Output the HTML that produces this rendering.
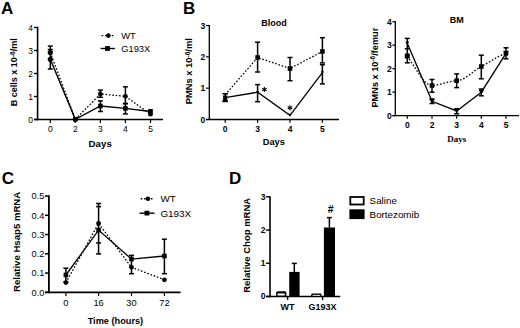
<!DOCTYPE html>
<html><head><meta charset="utf-8"><style>
html,body{margin:0;padding:0;background:#fff;}
svg{display:block;}
</style></head><body>
<svg width="520" height="328" viewBox="0 0 520 328">
<rect width="520" height="328" fill="#fff"/>
<text x="1" y="13.6" font-family='"Liberation Sans", sans-serif' font-size="17" font-weight="bold" text-anchor="start">A</text>
<line x1="37.6" y1="26.75" x2="37.6" y2="120.25" stroke="#000" stroke-width="1.6"/>
<line x1="34" y1="119.5" x2="163" y2="119.5" stroke="#000" stroke-width="1.6"/>
<line x1="34" y1="119.5" x2="37.6" y2="119.5" stroke="#000" stroke-width="1.4"/>
<text x="33" y="122.5" font-family='"Liberation Sans", sans-serif' font-size="8.5" font-weight="normal" text-anchor="end">0</text>
<line x1="34" y1="96.5" x2="37.6" y2="96.5" stroke="#000" stroke-width="1.4"/>
<text x="33" y="99.5" font-family='"Liberation Sans", sans-serif' font-size="8.5" font-weight="normal" text-anchor="end">1</text>
<line x1="34" y1="73.5" x2="37.6" y2="73.5" stroke="#000" stroke-width="1.4"/>
<text x="33" y="76.5" font-family='"Liberation Sans", sans-serif' font-size="8.5" font-weight="normal" text-anchor="end">2</text>
<line x1="34" y1="50.5" x2="37.6" y2="50.5" stroke="#000" stroke-width="1.4"/>
<text x="33" y="53.5" font-family='"Liberation Sans", sans-serif' font-size="8.5" font-weight="normal" text-anchor="end">3</text>
<line x1="34" y1="27.5" x2="37.6" y2="27.5" stroke="#000" stroke-width="1.4"/>
<text x="33" y="30.5" font-family='"Liberation Sans", sans-serif' font-size="8.5" font-weight="normal" text-anchor="end">4</text>
<line x1="50.3" y1="119.5" x2="50.3" y2="123" stroke="#000" stroke-width="1.2"/>
<text x="50.3" y="132" font-family='"Liberation Sans", sans-serif' font-size="8.5" font-weight="normal" text-anchor="middle">0</text>
<line x1="75.3" y1="119.5" x2="75.3" y2="123" stroke="#000" stroke-width="1.2"/>
<text x="75.3" y="132" font-family='"Liberation Sans", sans-serif' font-size="8.5" font-weight="normal" text-anchor="middle">2</text>
<line x1="100.4" y1="119.5" x2="100.4" y2="123" stroke="#000" stroke-width="1.2"/>
<text x="100.4" y="132" font-family='"Liberation Sans", sans-serif' font-size="8.5" font-weight="normal" text-anchor="middle">3</text>
<line x1="125.4" y1="119.5" x2="125.4" y2="123" stroke="#000" stroke-width="1.2"/>
<text x="125.4" y="132" font-family='"Liberation Sans", sans-serif' font-size="8.5" font-weight="normal" text-anchor="middle">4</text>
<line x1="150.5" y1="119.5" x2="150.5" y2="123" stroke="#000" stroke-width="1.2"/>
<text x="150.5" y="132" font-family='"Liberation Sans", sans-serif' font-size="8.5" font-weight="normal" text-anchor="middle">5</text>
<text x="100.2" y="146.8" font-family='"Liberation Sans", sans-serif' font-size="9.7" font-weight="bold" text-anchor="middle">Days</text>
<text transform="translate(16.7,72.2) rotate(-90)" font-family='"Liberation Sans", sans-serif' font-size="9" font-weight="bold" text-anchor="middle">B cells x 10<tspan dy="-1.5" font-size="6.6">-6</tspan><tspan dy="1.5">/ml</tspan></text>
<polyline points="50.3,52.4 75.3,119.3 100.4,94 125.4,96.3 150.5,114.2" fill="none" stroke="#000" stroke-width="1.3" stroke-dasharray="1.6 1.8"/>
<polyline points="50.3,59.3 75.3,119.3 100.4,106 125.4,108.4 150.5,111.5" fill="none" stroke="#000" stroke-width="1.4"/>
<line x1="50.3" y1="46.1" x2="50.3" y2="69" stroke="#000" stroke-width="1.5"/>
<line x1="47.8" y1="46.1" x2="52.8" y2="46.1" stroke="#000" stroke-width="1.5"/>
<line x1="47.8" y1="69" x2="52.8" y2="69" stroke="#000" stroke-width="1.5"/>
<line x1="47.8" y1="49.5" x2="52.8" y2="49.5" stroke="#000" stroke-width="1.5"/>
<line x1="100.4" y1="90.1" x2="100.4" y2="97.3" stroke="#000" stroke-width="1.5"/>
<line x1="97.9" y1="90.1" x2="102.9" y2="90.1" stroke="#000" stroke-width="1.5"/>
<line x1="97.9" y1="97.3" x2="102.9" y2="97.3" stroke="#000" stroke-width="1.5"/>
<line x1="100.4" y1="100.9" x2="100.4" y2="111.5" stroke="#000" stroke-width="1.5"/>
<line x1="97.9" y1="100.9" x2="102.9" y2="100.9" stroke="#000" stroke-width="1.5"/>
<line x1="97.9" y1="111.5" x2="102.9" y2="111.5" stroke="#000" stroke-width="1.5"/>
<line x1="125.4" y1="86.8" x2="125.4" y2="103.8" stroke="#000" stroke-width="1.5"/>
<line x1="122.9" y1="86.8" x2="127.9" y2="86.8" stroke="#000" stroke-width="1.5"/>
<line x1="122.9" y1="103.8" x2="127.9" y2="103.8" stroke="#000" stroke-width="1.5"/>
<line x1="125.4" y1="103.4" x2="125.4" y2="113.9" stroke="#000" stroke-width="1.5"/>
<line x1="122.9" y1="103.4" x2="127.9" y2="103.4" stroke="#000" stroke-width="1.5"/>
<line x1="122.9" y1="113.9" x2="127.9" y2="113.9" stroke="#000" stroke-width="1.5"/>
<circle cx="50.3" cy="52.4" r="2.6" fill="#000"/>
<circle cx="50.3" cy="59.3" r="2.6" fill="#000"/>
<circle cx="75.3" cy="119.3" r="2.4" fill="#000"/>
<rect x="73.0" y="117.0" width="4.6" height="4.6" fill="#000"/>
<circle cx="100.4" cy="94" r="2.4" fill="#000"/>
<rect x="98.10000000000001" y="103.7" width="4.6" height="4.6" fill="#000"/>
<circle cx="125.4" cy="96.3" r="2.4" fill="#000"/>
<rect x="123.10000000000001" y="106.10000000000001" width="4.6" height="4.6" fill="#000"/>
<circle cx="150.5" cy="114.2" r="2.4" fill="#000"/>
<rect x="148.2" y="109.0" width="4.6" height="4.6" fill="#000"/>
<line x1="101.6" y1="35.6" x2="114.4" y2="35.6" stroke="#000" stroke-width="1.4" stroke-dasharray="1.6 1.8"/>
<circle cx="108.4" cy="35.6" r="2.3" fill="#000"/>
<text x="121.2" y="38.8" font-family='"Liberation Sans", sans-serif' font-size="9.35" font-weight="normal" text-anchor="start">WT</text>
<line x1="100.6" y1="48.5" x2="114.8" y2="48.5" stroke="#000" stroke-width="1.4"/>
<rect x="105.1" y="46.1" width="4.8" height="4.8" fill="#000"/>
<text x="121.2" y="52" font-family='"Liberation Sans", sans-serif' font-size="9.35" font-weight="normal" text-anchor="start">G193X</text>
<text x="182.9" y="13.7" font-family='"Liberation Sans", sans-serif' font-size="17" font-weight="bold" text-anchor="start">B</text>
<line x1="209.3" y1="24.9" x2="209.3" y2="120.1" stroke="#000" stroke-width="1.3"/>
<line x1="206" y1="119.5" x2="339" y2="119.5" stroke="#000" stroke-width="1.3"/>
<line x1="206" y1="119.5" x2="209.3" y2="119.5" stroke="#000" stroke-width="1.2"/>
<text x="205.3" y="122.5" font-family='"Liberation Sans", sans-serif' font-size="8.5" font-weight="bold" text-anchor="end">0</text>
<line x1="206" y1="88.17" x2="209.3" y2="88.17" stroke="#000" stroke-width="1.2"/>
<text x="205.3" y="91.17" font-family='"Liberation Sans", sans-serif' font-size="8.5" font-weight="bold" text-anchor="end">1</text>
<line x1="206" y1="56.84" x2="209.3" y2="56.84" stroke="#000" stroke-width="1.2"/>
<text x="205.3" y="59.84" font-family='"Liberation Sans", sans-serif' font-size="8.5" font-weight="bold" text-anchor="end">2</text>
<line x1="206" y1="25.510000000000005" x2="209.3" y2="25.510000000000005" stroke="#000" stroke-width="1.2"/>
<text x="205.3" y="28.510000000000005" font-family='"Liberation Sans", sans-serif' font-size="8.5" font-weight="bold" text-anchor="end">3</text>
<line x1="225.2" y1="119.5" x2="225.2" y2="122.8" stroke="#000" stroke-width="1.2"/>
<text x="225.2" y="132" font-family='"Liberation Sans", sans-serif' font-size="8.5" font-weight="bold" text-anchor="middle">0</text>
<line x1="257.6" y1="119.5" x2="257.6" y2="122.8" stroke="#000" stroke-width="1.2"/>
<text x="257.6" y="132" font-family='"Liberation Sans", sans-serif' font-size="8.5" font-weight="bold" text-anchor="middle">3</text>
<line x1="290" y1="119.5" x2="290" y2="122.8" stroke="#000" stroke-width="1.2"/>
<text x="290" y="132" font-family='"Liberation Sans", sans-serif' font-size="8.5" font-weight="bold" text-anchor="middle">4</text>
<line x1="322.4" y1="119.5" x2="322.4" y2="122.8" stroke="#000" stroke-width="1.2"/>
<text x="322.4" y="132" font-family='"Liberation Sans", sans-serif' font-size="8.5" font-weight="bold" text-anchor="middle">5</text>
<text x="273.8" y="145" font-family='"Liberation Sans", sans-serif' font-size="9.3" font-weight="bold" text-anchor="middle">Days</text>
<text x="273.9" y="26" font-family='"Liberation Sans", sans-serif' font-size="9" font-weight="bold" text-anchor="middle">Blood</text>
<text transform="translate(191.7,71.2) rotate(-90)" font-family='"Liberation Sans", sans-serif' font-size="9.35" font-weight="bold" text-anchor="middle">PMNs x 10<tspan dy="-2.2" font-size="6.6">-6</tspan><tspan dy="2.2">/ml</tspan></text>
<polyline points="225.2,94.8 257.6,57.5 290,68.5 322.4,51.5" fill="none" stroke="#000" stroke-width="1.3" stroke-dasharray="1.6 1.8"/>
<polyline points="225.2,97.6 257.6,92.2 290,115.4 322.4,72.6" fill="none" stroke="#000" stroke-width="1.3"/>
<line x1="225.2" y1="93.8" x2="225.2" y2="101.5" stroke="#000" stroke-width="1.5"/>
<line x1="222.45" y1="93.8" x2="227.95" y2="93.8" stroke="#000" stroke-width="1.5"/>
<line x1="222.45" y1="101.5" x2="227.95" y2="101.5" stroke="#000" stroke-width="1.5"/>
<line x1="257.6" y1="42.2" x2="257.6" y2="72" stroke="#000" stroke-width="1.5"/>
<line x1="255.10000000000002" y1="42.2" x2="260.1" y2="42.2" stroke="#000" stroke-width="1.5"/>
<line x1="255.10000000000002" y1="72" x2="260.1" y2="72" stroke="#000" stroke-width="1.5"/>
<line x1="257.6" y1="84.6" x2="257.6" y2="101.7" stroke="#000" stroke-width="1.5"/>
<line x1="255.10000000000002" y1="84.6" x2="260.1" y2="84.6" stroke="#000" stroke-width="1.5"/>
<line x1="255.10000000000002" y1="101.7" x2="260.1" y2="101.7" stroke="#000" stroke-width="1.5"/>
<line x1="290" y1="57.5" x2="290" y2="80.7" stroke="#000" stroke-width="1.5"/>
<line x1="287.5" y1="57.5" x2="292.5" y2="57.5" stroke="#000" stroke-width="1.5"/>
<line x1="287.5" y1="80.7" x2="292.5" y2="80.7" stroke="#000" stroke-width="1.5"/>
<line x1="322.4" y1="37.7" x2="322.4" y2="62.9" stroke="#000" stroke-width="1.5"/>
<line x1="319.9" y1="37.7" x2="324.9" y2="37.7" stroke="#000" stroke-width="1.5"/>
<line x1="319.9" y1="62.9" x2="324.9" y2="62.9" stroke="#000" stroke-width="1.5"/>
<line x1="322.4" y1="64.7" x2="322.4" y2="83.9" stroke="#000" stroke-width="1.5"/>
<line x1="319.9" y1="64.7" x2="324.9" y2="64.7" stroke="#000" stroke-width="1.5"/>
<line x1="319.9" y1="83.9" x2="324.9" y2="83.9" stroke="#000" stroke-width="1.5"/>
<polygon points="222.1,101.69000000000001 228.29999999999998,101.69000000000001 225.2,96.11" fill="#000"/>
<rect x="223.1" y="95.5" width="4.2" height="4.2" fill="#000"/>
<rect x="255.3" y="55.2" width="4.6" height="4.6" fill="#000"/>
<polygon points="256.0,90.96000000000001 259.20000000000005,90.96000000000001 257.6,93.84" fill="#000"/>
<rect x="287.7" y="66.2" width="4.6" height="4.6" fill="#000"/>
<polygon points="288.4,113.76 291.6,113.76 290,116.64" fill="#000"/>
<rect x="320.09999999999997" y="49.2" width="4.6" height="4.6" fill="#000"/>
<polygon points="320.79999999999995,71.16 324.0,71.16 322.4,74.03999999999999" fill="#000"/>
<line x1="264.4" y1="86.9" x2="264.4" y2="92.1" stroke="#000" stroke-width="1.1"/>
<line x1="266.65" y1="88.2" x2="262.15" y2="90.8" stroke="#000" stroke-width="1.1"/>
<line x1="266.65" y1="90.8" x2="262.15" y2="88.2" stroke="#000" stroke-width="1.1"/>
<line x1="290.0" y1="105.2" x2="290.0" y2="110.4" stroke="#000" stroke-width="1.1"/>
<line x1="292.25" y1="106.5" x2="287.75" y2="109.1" stroke="#000" stroke-width="1.1"/>
<line x1="292.25" y1="109.1" x2="287.75" y2="106.5" stroke="#000" stroke-width="1.1"/>
<line x1="395.3" y1="21.099999999999998" x2="395.3" y2="116.19999999999999" stroke="#000" stroke-width="1.3"/>
<line x1="392.4" y1="115.6" x2="519" y2="115.6" stroke="#000" stroke-width="1.3"/>
<line x1="392.4" y1="115.6" x2="395.3" y2="115.6" stroke="#000" stroke-width="1.2"/>
<text x="391.8" y="118.6" font-family='"Liberation Sans", sans-serif' font-size="8.5" font-weight="bold" text-anchor="end">0</text>
<line x1="392.4" y1="92.13" x2="395.3" y2="92.13" stroke="#000" stroke-width="1.2"/>
<text x="391.8" y="95.13" font-family='"Liberation Sans", sans-serif' font-size="8.5" font-weight="bold" text-anchor="end">1</text>
<line x1="392.4" y1="68.66" x2="395.3" y2="68.66" stroke="#000" stroke-width="1.2"/>
<text x="391.8" y="71.66" font-family='"Liberation Sans", sans-serif' font-size="8.5" font-weight="bold" text-anchor="end">2</text>
<line x1="392.4" y1="45.19" x2="395.3" y2="45.19" stroke="#000" stroke-width="1.2"/>
<text x="391.8" y="48.19" font-family='"Liberation Sans", sans-serif' font-size="8.5" font-weight="bold" text-anchor="end">3</text>
<line x1="392.4" y1="21.72" x2="395.3" y2="21.72" stroke="#000" stroke-width="1.2"/>
<text x="391.8" y="24.72" font-family='"Liberation Sans", sans-serif' font-size="8.5" font-weight="bold" text-anchor="end">4</text>
<line x1="407.3" y1="115.6" x2="407.3" y2="118.8" stroke="#000" stroke-width="1.2"/>
<text x="407.3" y="128.2" font-family='"Liberation Sans", sans-serif' font-size="8.5" font-weight="bold" text-anchor="middle">0</text>
<line x1="432" y1="115.6" x2="432" y2="118.8" stroke="#000" stroke-width="1.2"/>
<text x="432" y="128.2" font-family='"Liberation Sans", sans-serif' font-size="8.5" font-weight="bold" text-anchor="middle">2</text>
<line x1="456.7" y1="115.6" x2="456.7" y2="118.8" stroke="#000" stroke-width="1.2"/>
<text x="456.7" y="128.2" font-family='"Liberation Sans", sans-serif' font-size="8.5" font-weight="bold" text-anchor="middle">3</text>
<line x1="481.3" y1="115.6" x2="481.3" y2="118.8" stroke="#000" stroke-width="1.2"/>
<text x="481.3" y="128.2" font-family='"Liberation Sans", sans-serif' font-size="8.5" font-weight="bold" text-anchor="middle">4</text>
<line x1="506" y1="115.6" x2="506" y2="118.8" stroke="#000" stroke-width="1.2"/>
<text x="506" y="128.2" font-family='"Liberation Sans", sans-serif' font-size="8.5" font-weight="bold" text-anchor="middle">5</text>
<text x="456.7" y="142" font-family='"Liberation Serif", serif' font-size="9" font-weight="bold" text-anchor="middle">Days</text>
<text x="456.8" y="23" font-family='"Liberation Sans", sans-serif' font-size="9" font-weight="bold" text-anchor="middle">BM</text>
<text transform="translate(377.6,67.6) rotate(-90)" font-family='"Liberation Sans", sans-serif' font-size="9.2" font-weight="bold" text-anchor="middle">PMNs x 10<tspan dy="-2.6" font-size="6.5">-6</tspan><tspan dy="2.6">/femur</tspan></text>
<path d="M407.3,56 C420,75 425,85.5 432,85.5 C440,85.5 448,81 456.7,80.7 C466,80 474,70 481.3,66.5 C490,62 498,56 506,53.3" fill="none" stroke="#000" stroke-width="1.3" stroke-dasharray="1.6 1.8"/>
<polyline points="407.3,43.2 432,101.3 456.7,110.9 481.3,92.2 506,53.3" fill="none" stroke="#000" stroke-width="1.3"/>
<line x1="407.3" y1="38.4" x2="407.3" y2="62.8" stroke="#000" stroke-width="1.5"/>
<line x1="404.8" y1="38.4" x2="409.8" y2="38.4" stroke="#000" stroke-width="1.5"/>
<line x1="404.8" y1="62.8" x2="409.8" y2="62.8" stroke="#000" stroke-width="1.5"/>
<line x1="432" y1="79.5" x2="432" y2="92.2" stroke="#000" stroke-width="1.5"/>
<line x1="429.5" y1="79.5" x2="434.5" y2="79.5" stroke="#000" stroke-width="1.5"/>
<line x1="429.5" y1="92.2" x2="434.5" y2="92.2" stroke="#000" stroke-width="1.5"/>
<line x1="432" y1="99" x2="432" y2="103.5" stroke="#000" stroke-width="1.5"/>
<line x1="429.5" y1="99" x2="434.5" y2="99" stroke="#000" stroke-width="1.5"/>
<line x1="429.5" y1="103.5" x2="434.5" y2="103.5" stroke="#000" stroke-width="1.5"/>
<line x1="456.7" y1="73.9" x2="456.7" y2="87.6" stroke="#000" stroke-width="1.5"/>
<line x1="454.2" y1="73.9" x2="459.2" y2="73.9" stroke="#000" stroke-width="1.5"/>
<line x1="454.2" y1="87.6" x2="459.2" y2="87.6" stroke="#000" stroke-width="1.5"/>
<line x1="456.7" y1="108.8" x2="456.7" y2="113.8" stroke="#000" stroke-width="1.5"/>
<line x1="454.2" y1="108.8" x2="459.2" y2="108.8" stroke="#000" stroke-width="1.5"/>
<line x1="454.2" y1="113.8" x2="459.2" y2="113.8" stroke="#000" stroke-width="1.5"/>
<line x1="481.3" y1="55.2" x2="481.3" y2="78.8" stroke="#000" stroke-width="1.5"/>
<line x1="478.8" y1="55.2" x2="483.8" y2="55.2" stroke="#000" stroke-width="1.5"/>
<line x1="478.8" y1="78.8" x2="483.8" y2="78.8" stroke="#000" stroke-width="1.5"/>
<line x1="481.3" y1="89" x2="481.3" y2="95.8" stroke="#000" stroke-width="1.5"/>
<line x1="478.8" y1="89" x2="483.8" y2="89" stroke="#000" stroke-width="1.5"/>
<line x1="478.8" y1="95.8" x2="483.8" y2="95.8" stroke="#000" stroke-width="1.5"/>
<line x1="506" y1="47.8" x2="506" y2="58.8" stroke="#000" stroke-width="1.5"/>
<line x1="503.5" y1="47.8" x2="508.5" y2="47.8" stroke="#000" stroke-width="1.5"/>
<line x1="503.5" y1="58.8" x2="508.5" y2="58.8" stroke="#000" stroke-width="1.5"/>
<line x1="404.8" y1="48.8" x2="409.8" y2="48.8" stroke="#000" stroke-width="1.5"/>
<rect x="404.8" y="53.5" width="5" height="5" fill="#000"/>
<polygon points="405.3,41.400000000000006 409.3,41.400000000000006 407.3,45.0" fill="#000"/>
<rect x="429.7" y="83.2" width="4.6" height="4.6" fill="#000"/>
<polygon points="429.25,98.825 434.75,98.825 432,103.77499999999999" fill="#000"/>
<rect x="454.4" y="78.4" width="4.6" height="4.6" fill="#000"/>
<polygon points="453.95,108.525 459.45,108.525 456.7,113.475" fill="#000"/>
<rect x="479.0" y="64.2" width="4.6" height="4.6" fill="#000"/>
<polygon points="478.55,89.72500000000001 484.05,89.72500000000001 481.3,94.675" fill="#000"/>
<rect x="503.7" y="51.0" width="4.6" height="4.6" fill="#000"/>
<polygon points="503.25,50.824999999999996 508.75,50.824999999999996 506,55.775" fill="#000"/>
<text x="1.8" y="183.9" font-family='"Liberation Sans", sans-serif' font-size="17" font-weight="bold" text-anchor="start">C</text>
<line x1="48.9" y1="195.25" x2="48.9" y2="293.15000000000003" stroke="#000" stroke-width="1.8"/>
<line x1="45" y1="292.3" x2="180.6" y2="292.3" stroke="#000" stroke-width="1.8"/>
<line x1="45" y1="292.3" x2="48.9" y2="292.3" stroke="#000" stroke-width="1.5"/>
<text x="44.3" y="295.6" font-family='"Liberation Sans", sans-serif' font-size="9.2" font-weight="normal" text-anchor="end">0.0</text>
<line x1="45" y1="273.05" x2="48.9" y2="273.05" stroke="#000" stroke-width="1.5"/>
<text x="44.3" y="276.35" font-family='"Liberation Sans", sans-serif' font-size="9.2" font-weight="normal" text-anchor="end">0.1</text>
<line x1="45" y1="253.8" x2="48.9" y2="253.8" stroke="#000" stroke-width="1.5"/>
<text x="44.3" y="257.1" font-family='"Liberation Sans", sans-serif' font-size="9.2" font-weight="normal" text-anchor="end">0.2</text>
<line x1="45" y1="234.55" x2="48.9" y2="234.55" stroke="#000" stroke-width="1.5"/>
<text x="44.3" y="237.85000000000002" font-family='"Liberation Sans", sans-serif' font-size="9.2" font-weight="normal" text-anchor="end">0.3</text>
<line x1="45" y1="215.3" x2="48.9" y2="215.3" stroke="#000" stroke-width="1.5"/>
<text x="44.3" y="218.60000000000002" font-family='"Liberation Sans", sans-serif' font-size="9.2" font-weight="normal" text-anchor="end">0.4</text>
<line x1="45" y1="196.05" x2="48.9" y2="196.05" stroke="#000" stroke-width="1.5"/>
<text x="44.3" y="199.35000000000002" font-family='"Liberation Sans", sans-serif' font-size="9.2" font-weight="normal" text-anchor="end">0.5</text>
<line x1="65.9" y1="292.3" x2="65.9" y2="296" stroke="#000" stroke-width="1.2"/>
<text x="65.9" y="306.2" font-family='"Liberation Sans", sans-serif' font-size="9.3" font-weight="normal" text-anchor="middle">0</text>
<line x1="98.6" y1="292.3" x2="98.6" y2="296" stroke="#000" stroke-width="1.2"/>
<text x="98.6" y="306.2" font-family='"Liberation Sans", sans-serif' font-size="9.3" font-weight="normal" text-anchor="middle">16</text>
<line x1="131.5" y1="292.3" x2="131.5" y2="296" stroke="#000" stroke-width="1.2"/>
<text x="131.5" y="306.2" font-family='"Liberation Sans", sans-serif' font-size="9.3" font-weight="normal" text-anchor="middle">30</text>
<line x1="164.4" y1="292.3" x2="164.4" y2="296" stroke="#000" stroke-width="1.2"/>
<text x="164.4" y="306.2" font-family='"Liberation Sans", sans-serif' font-size="9.3" font-weight="normal" text-anchor="middle">72</text>
<text x="115.4" y="324" font-family='"Liberation Sans", sans-serif' font-size="9.2" font-weight="bold" text-anchor="middle">Time (hours)</text>
<text transform="translate(20.3,241.9) rotate(-90)" font-family='"Liberation Sans", sans-serif' font-size="9.6" font-weight="bold" text-anchor="middle">Relative Hsap5 mRNA</text>
<polyline points="65.9,282.6 98.6,223.4 131.5,267.3 164.4,279.8" fill="none" stroke="#000" stroke-width="1.3" stroke-dasharray="1.6 1.8"/>
<polyline points="65.9,275 98.6,230.1 131.5,259.1 164.4,256" fill="none" stroke="#000" stroke-width="1.3"/>
<line x1="65.9" y1="268.2" x2="65.9" y2="282" stroke="#000" stroke-width="1.5"/>
<line x1="63.400000000000006" y1="268.2" x2="68.4" y2="268.2" stroke="#000" stroke-width="1.5"/>
<line x1="63.400000000000006" y1="282" x2="68.4" y2="282" stroke="#000" stroke-width="1.5"/>
<line x1="98.6" y1="203.5" x2="98.6" y2="253.9" stroke="#000" stroke-width="1.5"/>
<line x1="96.1" y1="203.5" x2="101.1" y2="203.5" stroke="#000" stroke-width="1.5"/>
<line x1="96.1" y1="253.9" x2="101.1" y2="253.9" stroke="#000" stroke-width="1.5"/>
<line x1="96.1" y1="206.6" x2="101.1" y2="206.6" stroke="#000" stroke-width="1.5"/>
<line x1="96.1" y1="242.9" x2="101.1" y2="242.9" stroke="#000" stroke-width="1.5"/>
<line x1="131.5" y1="255.4" x2="131.5" y2="273.7" stroke="#000" stroke-width="1.5"/>
<line x1="129.0" y1="255.4" x2="134.0" y2="255.4" stroke="#000" stroke-width="1.5"/>
<line x1="129.0" y1="273.7" x2="134.0" y2="273.7" stroke="#000" stroke-width="1.5"/>
<line x1="164.4" y1="239.2" x2="164.4" y2="273.7" stroke="#000" stroke-width="1.5"/>
<line x1="161.9" y1="239.2" x2="166.9" y2="239.2" stroke="#000" stroke-width="1.5"/>
<line x1="161.9" y1="273.7" x2="166.9" y2="273.7" stroke="#000" stroke-width="1.5"/>
<circle cx="65.9" cy="282.6" r="2.4" fill="#000"/>
<rect x="63.60000000000001" y="272.7" width="4.6" height="4.6" fill="#000"/>
<circle cx="98.6" cy="223.4" r="2.4" fill="#000"/>
<rect x="96.3" y="227.79999999999998" width="4.6" height="4.6" fill="#000"/>
<circle cx="131.5" cy="267.3" r="2.4" fill="#000"/>
<rect x="129.2" y="256.8" width="4.6" height="4.6" fill="#000"/>
<circle cx="164.4" cy="279.8" r="2.4" fill="#000"/>
<rect x="162.1" y="253.7" width="4.6" height="4.6" fill="#000"/>
<line x1="140.7" y1="198.8" x2="153.5" y2="198.8" stroke="#000" stroke-width="1.4" stroke-dasharray="1.6 1.8"/>
<circle cx="147.9" cy="198.8" r="2.3" fill="#000"/>
<text x="160.4" y="202.3" font-family='"Liberation Sans", sans-serif' font-size="9.9" font-weight="normal" text-anchor="start">WT</text>
<line x1="139.5" y1="213.2" x2="154.5" y2="213.2" stroke="#000" stroke-width="1.4"/>
<rect x="144.5" y="210.7" width="4.8" height="4.8" fill="#000"/>
<text x="160.4" y="217.2" font-family='"Liberation Sans", sans-serif' font-size="9.9" font-weight="normal" text-anchor="start">G193X</text>
<text x="228.9" y="184.2" font-family='"Liberation Sans", sans-serif' font-size="17" font-weight="bold" text-anchor="start">D</text>
<line x1="270" y1="196.15" x2="270" y2="297.2" stroke="#000" stroke-width="1.6"/>
<line x1="266" y1="296.45" x2="340.2" y2="296.45" stroke="#000" stroke-width="1.6"/>
<line x1="266" y1="296.45" x2="270" y2="296.45" stroke="#000" stroke-width="1.4"/>
<text x="265.5" y="299.45" font-family='"Liberation Sans", sans-serif' font-size="8.5" font-weight="bold" text-anchor="end">0</text>
<line x1="266" y1="263.25" x2="270" y2="263.25" stroke="#000" stroke-width="1.4"/>
<text x="265.5" y="266.25" font-family='"Liberation Sans", sans-serif' font-size="8.5" font-weight="bold" text-anchor="end">1</text>
<line x1="266" y1="230.04999999999998" x2="270" y2="230.04999999999998" stroke="#000" stroke-width="1.4"/>
<text x="265.5" y="233.04999999999998" font-family='"Liberation Sans", sans-serif' font-size="8.5" font-weight="bold" text-anchor="end">2</text>
<line x1="266" y1="196.84999999999997" x2="270" y2="196.84999999999997" stroke="#000" stroke-width="1.4"/>
<text x="265.5" y="199.84999999999997" font-family='"Liberation Sans", sans-serif' font-size="8.5" font-weight="bold" text-anchor="end">3</text>
<line x1="287.6" y1="296.45" x2="287.6" y2="300" stroke="#000" stroke-width="1.4"/>
<text x="287.6" y="310" font-family='"Liberation Sans", sans-serif' font-size="9" font-weight="bold" text-anchor="middle">WT</text>
<line x1="322.6" y1="296.45" x2="322.6" y2="300" stroke="#000" stroke-width="1.4"/>
<text x="322.6" y="310" font-family='"Liberation Sans", sans-serif' font-size="9" font-weight="bold" text-anchor="middle">G193X</text>
<text transform="translate(249.5,245.35) rotate(-90)" font-family='"Liberation Sans", sans-serif' font-size="9.5" font-weight="bold" text-anchor="middle">Relative Chop mRNA</text>
<line x1="294.3" y1="263.4" x2="294.3" y2="272" stroke="#000" stroke-width="1.5"/>
<line x1="291.8" y1="263.4" x2="296.8" y2="263.4" stroke="#000" stroke-width="1.5"/>
<line x1="329.4" y1="217.6" x2="329.4" y2="227.5" stroke="#000" stroke-width="1.5"/>
<line x1="326.9" y1="217.6" x2="331.9" y2="217.6" stroke="#000" stroke-width="1.5"/>
<rect x="276.1" y="291.2" width="10.3" height="5.2" fill="#000" rx="1.5"/>
<rect x="277.5" y="293.4" width="7.4" height="2.2" fill="#fff" rx="0.8"/>
<rect x="289.2" y="271.9" width="10.400000000000034" height="24.55000000000001" fill="#000"/>
<rect x="311.2" y="293.5" width="10.3" height="3.0" fill="#000" rx="1.2"/>
<rect x="312.6" y="294.9" width="7.6" height="0.9" fill="#fff"/>
<rect x="323.9" y="227.5" width="11.100000000000023" height="68.94999999999999" fill="#000"/>
<text x="330.6" y="212.7" font-family='"Liberation Sans", sans-serif' font-size="10.5" font-weight="bold" text-anchor="middle">#</text>
<rect x="350.3" y="197" width="13.4" height="7.5" fill="#fff" stroke="#000" stroke-width="1.8"/>
<rect x="349.4" y="209.3" width="15.2" height="9.8" fill="#000"/>
<text x="369.6" y="204" font-family='"Liberation Sans", sans-serif' font-size="9.8" font-weight="normal" text-anchor="start">Saline</text>
<text x="369.6" y="217.5" font-family='"Liberation Sans", sans-serif' font-size="9.8" font-weight="normal" text-anchor="start">Bortezomib</text>
</svg>
</body></html>
